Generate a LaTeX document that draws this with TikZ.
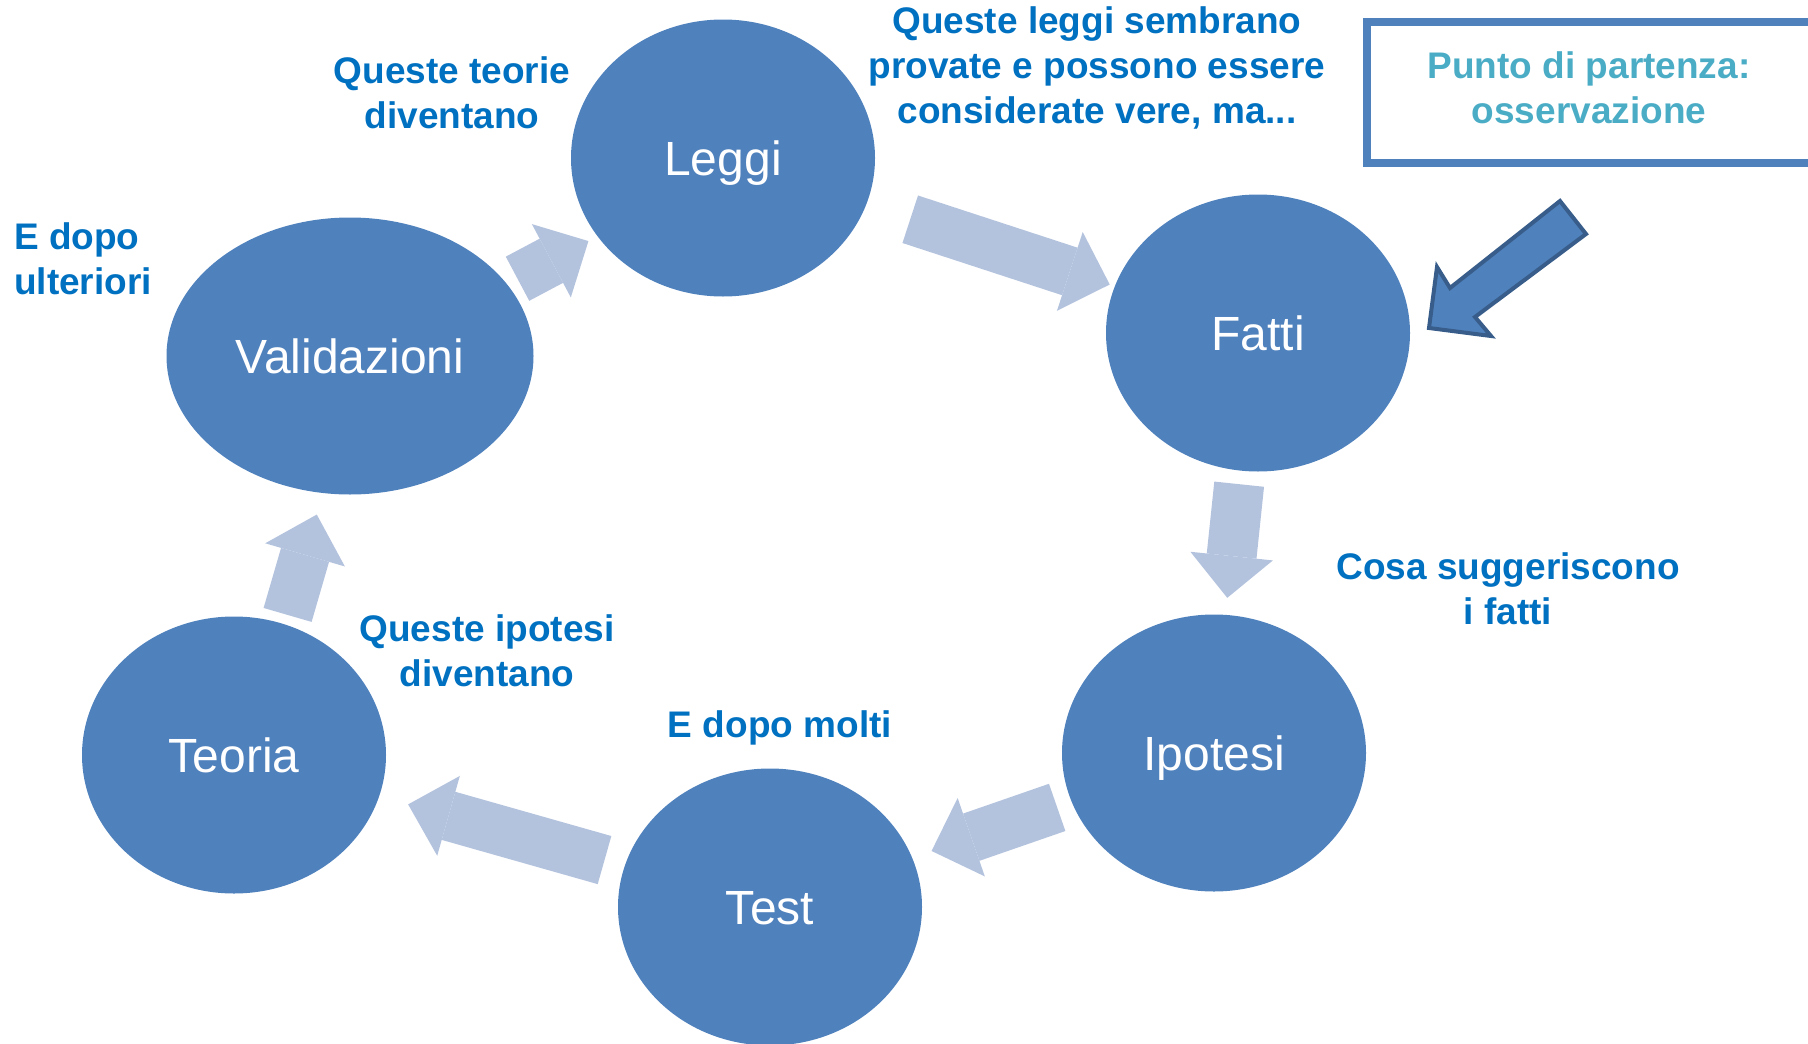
\documentclass[tikz,border=0pt]{standalone}
\usepackage{fontspec}
\setmainfont{Liberation Sans}
\usetikzlibrary{shapes.geometric,arrows.meta,calc}

\definecolor{bubbleblue}{HTML}{4F81BD}
\definecolor{flowblue}{HTML}{B3C3DE}
\definecolor{noteblue}{HTML}{0070C0}
\definecolor{startblue}{HTML}{4BACC6}
\definecolor{edgeblue}{HTML}{385D8A}

\tikzset{
bubble/.style={ellipse, fill=bubbleblue, text=white, inner sep=0pt,
  minimum width=304pt, minimum height=277pt,
  text height=34pt, text depth=0pt,
  font=\fontsize{48}{56}\selectfont},
note/.style={text=noteblue, align=center, inner sep=0pt,
  font=\bfseries\fontsize{37}{45}\selectfont},
flow/.style={line width=50pt, color=flowblue,
  -{Triangle[width=83pt, length=42pt, line width=0pt]}}
}

\newcommand{\drawflow}[5][0,0]{
\draw[flow, shorten <=#4pt, shorten >=#5pt]
($(#2.center)+(#1)$) -- ($(#3.center)+(#1)$);
}

\begin{document}
\begin{tikzpicture}[x=1pt, y=-1pt]
\useasboundingbox (0,0) rectangle (1808,1044);

\node[bubble] (leggi) at (723,158) {Leggi};
\node[bubble] (fatti) at (1258,333) {Fatti};
\node[bubble] (ipotesi) at (1214,753) {Ipotesi};
\node[bubble] (test) at (770,907) {Test};
\node[bubble] (teoria) at (234,755) {Teoria};
\node[bubble, minimum width=367pt] (validazioni) at (350,356) {Validazioni};

\drawflow{leggi}{fatti}{197}{156}
\drawflow[-3,0]{fatti}{ipotesi}{152}{156}
\drawflow{ipotesi}{test}{166}{171}
\drawflow{test}{teoria}{172}{181}
\drawflow[12,3]{teoria}{validazioni}{149}{162}
\drawflow[5,9]{validazioni}{leggi}{184}{158}

\node[note] (teorie) at (452,93) {Queste teorie\\diventano};
\node[note] (provate) at (1097,68) {Queste leggi sembrano\\provate e possono essere\\considerate vere, ma...};
\node[note, align=left, anchor=west] (ulteriori) at (14,259) {E dopo\\ulteriori};
\node[note] (suggeriscono) at (1508,589) {Cosa suggeriscono\\i fatti};
\node[note] (diventano) at (487,651) {Queste ipotesi\\diventano};
\node[note] (molti) at (780,728) {E dopo molti};

\draw[line width=8pt, color=bubbleblue] (1367,22) rectangle (1850,163);
\node[note, text=startblue] (partenza) at (1589,88) {Punto di partenza:\\osservazione};

\draw[fill=bubbleblue, draw=edgeblue, line width=4pt, line join=miter]
(1560,201) -- (1450,288) -- (1437,267) -- (1429,328) -- (1491,336)
-- (1475,317) -- (1586,234) -- cycle;

\end{tikzpicture}
\end{document}
